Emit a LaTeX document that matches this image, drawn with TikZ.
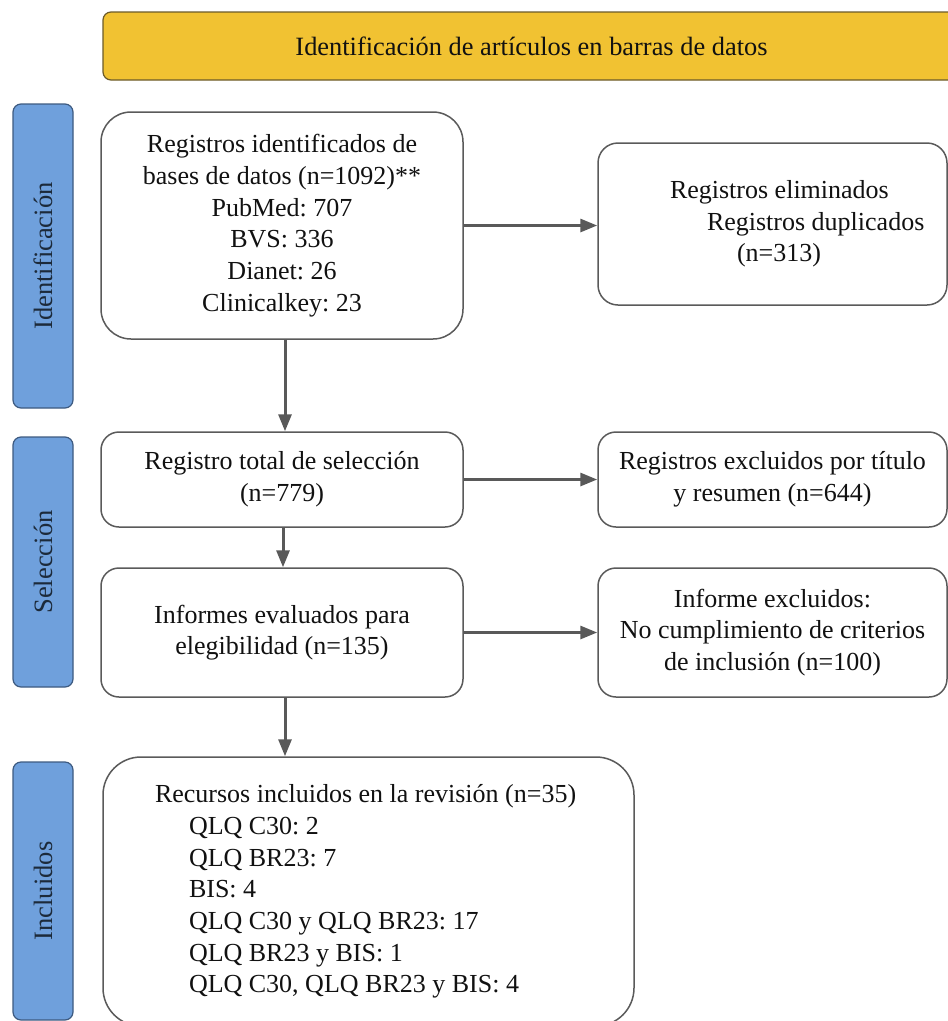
\documentclass[tikz,border=0pt]{standalone}
\usepackage{fontspec}
\setmainfont{Liberation Serif}
\frenchspacing
\usetikzlibrary{arrows.meta}
\definecolor{bannerfill}{HTML}{F1C232}
\definecolor{bannerline}{HTML}{6B5A2A}
\definecolor{barfill}{HTML}{6FA0DC}
\definecolor{barline}{HTML}{3D5A80}
\definecolor{bartext}{HTML}{1C2A3A}
\definecolor{boxline}{HTML}{5A5A5A}
\definecolor{arrowcol}{HTML}{595959}
\definecolor{txt}{HTML}{111111}
\tikzset{
  basefont/.style={font=\fontsize{26}{31.7}\selectfont, text=txt},
  flowbox/.style={basefont, draw=boxline, line width=1.5pt, fill=white, rectangle, rounded corners=#1, inner sep=0pt, align=center},
  sidebar/.style={draw=barline, line width=1.2pt, fill=barfill, rectangle, rounded corners=8pt, rotate=90, inner sep=0pt, minimum height=60pt, font=\fontsize{26.5}{30}\selectfont, text=bartext},
  flowarrow/.style={draw=arrowcol, line width=3pt, -{Triangle[length=17pt,width=13pt]}}
}
\begin{document}
\begin{tikzpicture}[x=1pt,y=-1pt]
\useasboundingbox (0,0) rectangle (948,1021);
% banner
\node[draw=bannerline, line width=1.2pt, fill=bannerfill, rounded corners=8pt, minimum width=857pt, minimum height=68pt, inner sep=0pt, font=\fontsize{26.4}{30}\selectfont, text=txt] (banner) at (531.5,46) {Identificación de artículos en barras de datos};
% side bars
\node[sidebar, minimum width=304pt] (barid) at (43,256) {Identificación};
\node[sidebar, minimum width=250pt] (barsel) at (43,562) {Selección};
\node[sidebar, minimum width=258pt] (barinc) at (43,891) {Incluidos};
% main column
\node[flowbox=30pt, minimum width=362pt, minimum height=227pt] (b1) at (282,225.5)
  {Registros identificados de\\bases de datos (n=1092)**\\PubMed: 707\\BVS: 336\\Dianet: 26\\Clinicalkey: 23};
\node[flowbox=18pt, minimum width=362pt, minimum height=95pt] (b2) at (282,479.5)
  {Registro total de selección\\(n=779)};
\node[flowbox=18pt, minimum width=362pt, minimum height=129pt] (b3) at (282,632.5)
  {Informes evaluados para\\elegibilidad (n=135)};
\node[flowbox=38pt, minimum width=531pt, minimum height=269pt, text width=531pt, align=flush left] (b4) at (368.5,891.5)
  {\hspace*{52pt}Recursos incluidos en la revisión (n=35)\\
   \hspace*{86pt}QLQ C30: 2\\
   \hspace*{86pt}QLQ BR23: 7\\
   \hspace*{86pt}BIS: 4\\
   \hspace*{86pt}QLQ C30 y QLQ BR23: 17\\
   \hspace*{86pt}QLQ BR23 y BIS: 1\\
   \hspace*{86pt}QLQ C30, QLQ BR23 y BIS: 4};
% right column
\node[flowbox=20pt, minimum width=349pt, minimum height=162pt, text width=349pt, align=flush left] (r1) at (772.5,224)
  {\hspace*{72pt}Registros eliminados\\
   \hspace*{109pt}Registros duplicados\\
   \hspace*{139pt}(n=313)};
\node[flowbox=18pt, minimum width=349pt, minimum height=95pt] (r2) at (772.5,479.5)
  {Registros excluidos por título\\y resumen (n=644)};
\node[flowbox=18pt, minimum width=349pt, minimum height=129pt] (r3) at (772.5,632.5)
  {Informe excluidos:\\No cumplimiento de criterios\\de inclusión (n=100)};
% arrows
\draw[flowarrow] ([xshift=3pt]b1.south) -- ([xshift=3pt]b1.south |- b2.north);
\draw[flowarrow] ([xshift=1pt]b2.south) -- ([xshift=1pt]b2.south |- b3.north);
\draw[flowarrow] ([xshift=3pt]b3.south) -- ([xshift=3pt]b3.south |- b4.north);
\draw[flowarrow] (b1.east) -- (b1.east -| r1.west);
\draw[flowarrow] (b2.east) -- (b2.east -| r2.west);
\draw[flowarrow] (b3.east) -- (b3.east -| r3.west);
\end{tikzpicture}
\end{document}
